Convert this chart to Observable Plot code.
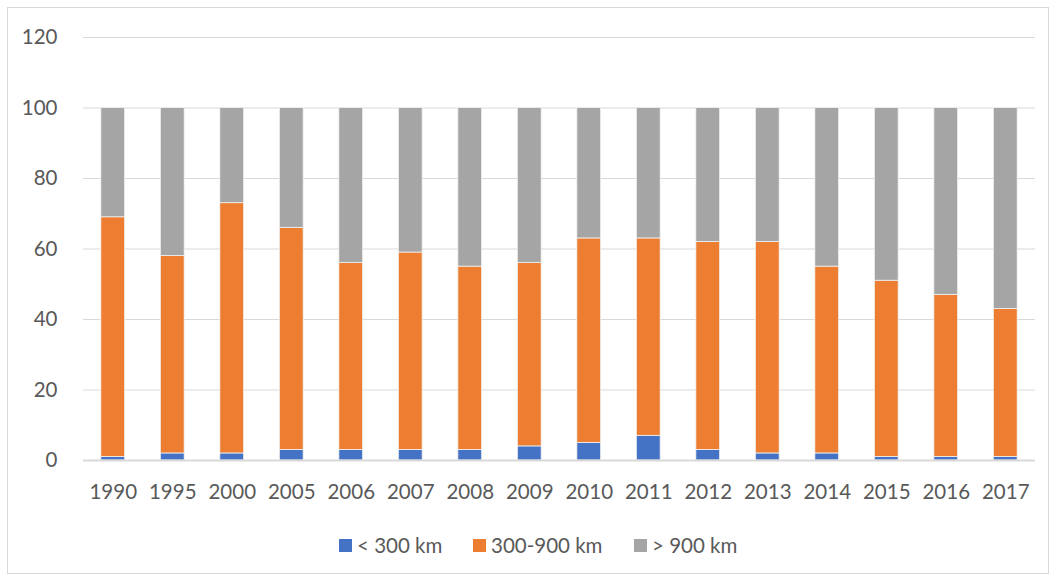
<!DOCTYPE html>
<html>
<head>
<meta charset="utf-8">
<script src="https://cdn.jsdelivr.net/npm/d3@7"></script>
<script src="https://cdn.jsdelivr.net/npm/@observablehq/plot@0.6"></script>
<style>
  body { margin: 0; background: #fff; font-family: Lato, "Open Sans", sans-serif; }
  #frame { position: absolute; left: 7px; top: 7px; width: 1042px; height: 567px; border: 1px solid #d9d9d9; box-sizing: border-box; }
  #chart { position: absolute; left: 0; top: 0; }
  #legend { position: absolute; top: 531px; left: 0; width: 1057px; height: 28px; font-size: 20.5px; color: #595959; white-space: nowrap; }
  .item { position: absolute; top: 0; display: flex; align-items: center; height: 28px; }
  .sw { width: 13px; height: 13px; margin-right: 5px; }
</style>
</head>
<body>
<div id="frame"></div>
<div id="chart"></div>
<div id="legend"></div>
<script>
const years = ["1990","1995","2000","2005","2006","2007","2008","2009","2010","2011","2012","2013","2014","2015","2016","2017"];
const seriesNames = ["< 300 km", "300-900 km", "> 900 km"];
const colors = ["#4472C4", "#ED7D31", "#A5A5A5"];
const under300 = [1, 2, 2, 3, 3, 3, 3, 4, 5, 7, 3, 2, 2, 1, 1, 1];
const mid300to900 = [68, 56, 71, 63, 53, 56, 52, 52, 58, 56, 59, 60, 53, 50, 46, 42];
const over900 = [31, 42, 27, 34, 44, 41, 45, 44, 37, 37, 38, 38, 45, 49, 53, 57];
const yTicks = [0, 20, 40, 60, 80, 100, 120];

const data = [];
const seriesValues = [under300, mid300to900, over900];
seriesNames.forEach((s, si) => {
  years.forEach((y, i) => data.push({year: y, series: s, value: seriesValues[si][i]}));
});

const chart = Plot.plot({
  width: 1057,
  height: 520,
  marginTop: 37,
  marginBottom: 60,
  marginLeft: 83,
  marginRight: 22,
  style: {fontFamily: "Lato, 'Open Sans', sans-serif", fontSize: "20.5px", color: "#595959", background: "transparent"},
  x: {domain: years, paddingInner: 0.6, paddingOuter: 0.3, round: false, label: null, tickSize: 0, tickPadding: 24},
  y: {domain: [0, 120], ticks: yTicks, label: null, tickSize: 0, tickPadding: 26},
  color: {domain: seriesNames, range: colors},
  marks: [
    Plot.ruleY(yTicks.filter(d => d > 0), {stroke: "#d9d9d9", strokeWidth: 1}),
    Plot.barY(data, {x: "year", y: "value", fill: "series", stroke: "#f2f2f2", strokeWidth: 0.8, order: seriesNames}),
    Plot.ruleY([0], {stroke: "#d9d9d9", strokeWidth: 2})
  ]
});
document.getElementById("chart").appendChild(chart);

const legend = document.getElementById("legend");
const legendLeft = [339, 473, 634];
seriesNames.forEach((s, i) => {
  const it = document.createElement("div");
  it.className = "item";
  it.style.left = legendLeft[i] + "px";
  const sw = document.createElement("div");
  sw.className = "sw";
  sw.style.background = colors[i];
  const t = document.createElement("span");
  t.textContent = s;
  it.appendChild(sw);
  it.appendChild(t);
  legend.appendChild(it);
});
</script>
</body>
</html>
